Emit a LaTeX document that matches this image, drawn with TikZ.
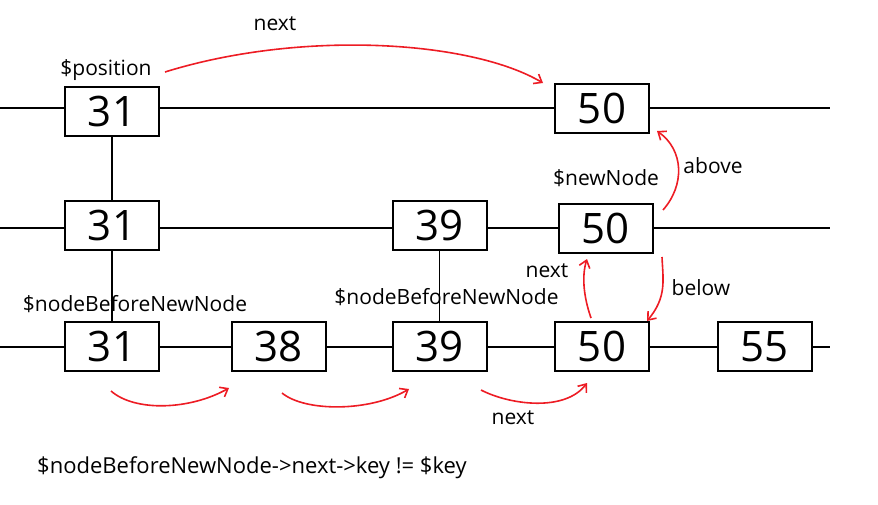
\documentclass[tikz,border=0pt]{standalone}
\usepackage{fontspec}
\setmainfont{Open Sans}
\usetikzlibrary{arrows.meta}
\definecolor{pen}{RGB}{237,28,36}
\tikzset{
  keybox/.style={draw=black, line width=2pt, fill=white, minimum width=94pt, minimum height=49pt, inner sep=0pt, font=\fontsize{42}{42}\selectfont},
  lbl/.style={anchor=base, inner sep=0pt, font=\fontsize{21}{21}\selectfont},
  lane/.style={line width=1.2pt, black},
  redarrow/.style={draw=pen, line width=1.6pt, -{Straight Barb[length=7pt,width=11pt]}}
}
\begin{document}
\begin{tikzpicture}[x=1pt,y=-1pt]
\useasboundingbox (0,0) rectangle (878,504);
% lanes
\coordinate (L1) at (0,108); \coordinate (R1) at (830,108);
\coordinate (L2) at (0,228); \coordinate (R2) at (830,228);
\coordinate (L3) at (0,347); \coordinate (R3) at (830,347);
\draw[lane] (L1) -- (R1);
\draw[lane] (L2) -- (R2);
\draw[lane] (L3) -- (R3);
% boxes
\node[keybox] (a31) at (112,111.5) {31};
\node[keybox] (a50) at (602,108.5) {50};
\node[keybox] (b31) at (112,225.5) {31};
\node[keybox] (b39) at (439.5,225.5) {39};
\node[keybox] (b50) at (605.5,228.5) {50};
\node[keybox] (c31) at (112,346.5) {31};
\node[keybox] (c38) at (278.5,346.5) {38};
\node[keybox] (c39) at (439.5,346.5) {39};
\node[keybox] (c50) at (602,346.5) {50};
\node[keybox] (c55) at (764.5,346.5) {55};
% verticals
\draw[lane] (a31.south) -- (b31.north);
\draw[lane] (b31.south) -- (c31.north);
\draw[lane] (b39.south) -- (c39.north);
% labels
\node[lbl] (tnext1) at (275,30) {next};
\node[lbl] (tpos) at (106,75) {\$position};
\node[lbl] (tnew) at (606,185) {\$newNode};
\node[lbl] (tabove) at (713,173) {above};
\node[lbl] (tnb1) at (135,311) {\$nodeBeforeNewNode};
\node[lbl] (tnb2) at (446.5,304) {\$nodeBeforeNewNode};
\node[lbl] (tnext2) at (547,277) {next};
\node[lbl] (tbelow) at (701,295) {below};
\node[lbl] (tnext3) at (513,424) {next};
\node[lbl, anchor=base west, font=\fontsize{22}{22}\selectfont] (tcond) at (37,473) {\$nodeBeforeNewNode->next->key != \$key};
% red arrows
\coordinate (p1s) at (165,72); \coordinate (p1e) at (543,83);
\draw[redarrow] (p1s) .. controls (300,30) and (470,40) .. (p1e);
\coordinate (p2s) at (663,210); \coordinate (p2e) at (657,131);
\draw[redarrow] (p2s) .. controls (685,185) and (684,150) .. (p2e);
\coordinate (p3s) at (662,257); \coordinate (p3e) at (647,321);
\draw[redarrow] (p3s) .. controls (663,280) and (667,297) .. (p3e);
\coordinate (p4s) at (591,318); \coordinate (p4e) at (587,259);
\draw[redarrow] (p4s) .. controls (583,295) and (582,275) .. (p4e);
\coordinate (q1s) at (111,391); \coordinate (q1e) at (229,388);
\draw[redarrow] (q1s) .. controls (135,412) and (190,410) .. (q1e);
\coordinate (q2s) at (282,393); \coordinate (q2e) at (409,389);
\draw[redarrow] (q2s) .. controls (305,412) and (370,412) .. (q2e);
\coordinate (q3s) at (481,390); \coordinate (q3e) at (587,383);
\draw[redarrow] (q3s) .. controls (510,405) and (565,412) .. (q3e);
\end{tikzpicture}
\end{document}
